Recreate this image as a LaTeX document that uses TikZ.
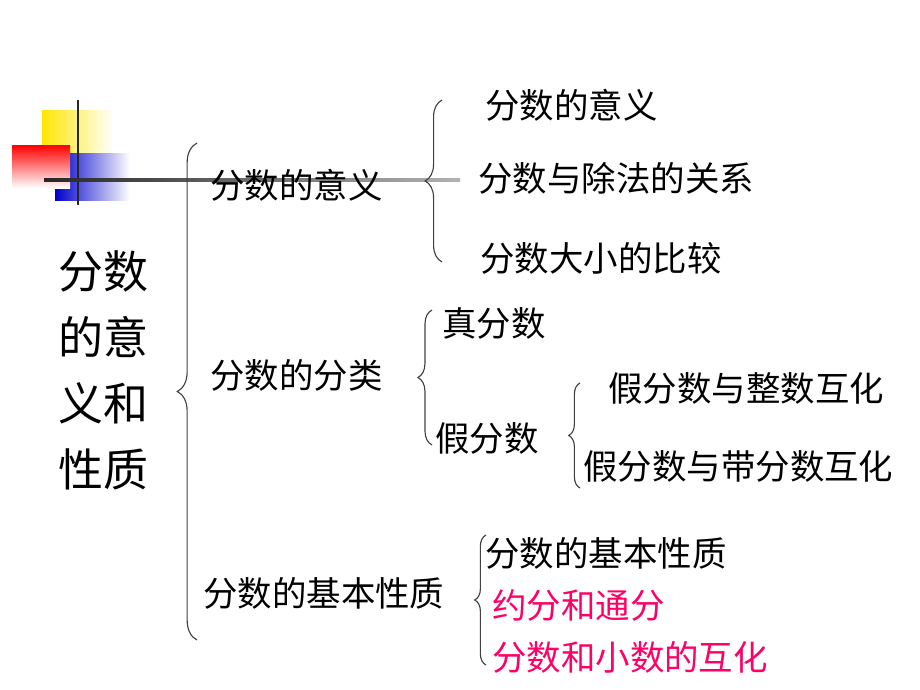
\documentclass[tikz,border=0pt]{standalone}
\usepackage{fontspec}
\setmainfont{Noto Sans CJK SC}
\usetikzlibrary{decorations.pathreplacing}
\definecolor{pinkred}{RGB}{255,0,102}
\tikzset{
  leaf/.style={anchor=west, inner sep=0pt, font=\fontsize{24.5}{28}\selectfont},
  brc/.style={draw=black!75, line width=0.8pt, decorate, decoration={brace, amplitude=#1}},
  brc/.default=12
}
\begin{document}
\begin{tikzpicture}[x=0.025cm, y=-0.025cm]
\useasboundingbox (0,0) rectangle (920,690);
% corner mark
\shade[left color=yellow!80!orange, right color=white] (42,110) rectangle (113,153);
\shade[left color=blue!80!black, right color=white] (55,153) rectangle (130,200);
\shade[shading angle=-135, top color=red, bottom color=white] (12,145) rectangle (70,188);
\draw[line width=1.6pt, black!85] (78,100) -- (78,205);
\shade[left color=black!85, right color=black!30] (44,178.5) rectangle (460,181.5);
% title
\node[font=\fontsize{32}{47}\selectfont, align=center, inner sep=0pt] (root) at (103,370) {分数\\的意\\义和\\性质};
% level one
\node[leaf] (mean) at (210,185) {分数的意义};
\node[leaf] (kind) at (210,375) {分数的分类};
\node[leaf] (prop) at (203,593) {分数的基本性质};
% leaves
\node[leaf] (m1) at (485,105) {分数的意义};
\node[leaf] (m2) at (478,178) {分数与除法的关系};
\node[leaf] (m3) at (480,258) {分数大小的比较};
\node[leaf] (k1) at (442,323) {真分数};
\node[leaf] (k2) at (435,438) {假分数};
\node[leaf] (k21) at (608,388) {假分数与整数互化};
\node[leaf] (k22) at (583,466) {假分数与带分数互化};
\node[leaf] (p1) at (485,553) {分数的基本性质};
\node[leaf, text=pinkred] (p2) at (492,605) {约分和通分};
\node[leaf, text=pinkred] (p3) at (492,657) {分数和小数的互化};
% braces
\draw[brc=14] (197,640) -- (197,143);
\draw[brc=12] (442,262) -- (442,100);
\draw[brc=10] (432,445) -- (432,310);
\draw[brc=8] (580,488) -- (580,383);
\draw[brc=8] (486,665) -- (486,535);
\end{tikzpicture}
\end{document}
